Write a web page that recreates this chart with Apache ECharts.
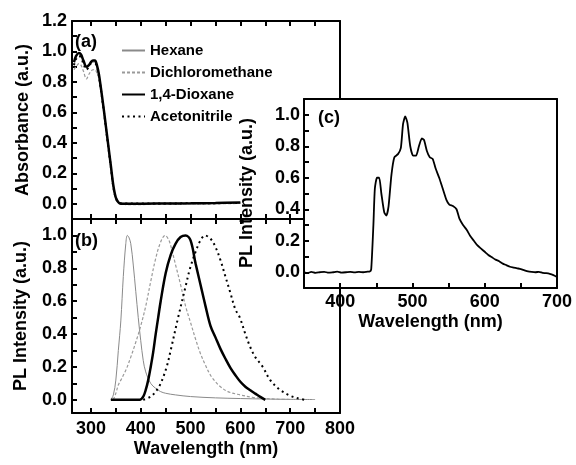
<!DOCTYPE html>
<html>
<head>
<meta charset="utf-8">
<script src="https://cdn.jsdelivr.net/npm/echarts@6/dist/echarts.min.js"></script>
<style>
  html, body { margin: 0; padding: 0; background: #fff; }
  #chart { width: 576px; height: 465px; }
</style>
</head>
<body>
<div id="chart"></div>
<script>
(function () {
    'use strict';

    var seriesNames = ['Hexane', 'Dichloromethane', '1,4-Dioxane', 'Acetonitrile'];

    // (a) absorbance
    var absWl = [266, 270, 276, 280, 285, 291, 296, 300, 304, 308, 312, 316, 320, 325, 330, 335, 340, 345, 350, 355, 360, 370, 400, 450, 500, 550, 600];
    var absHexane = [0.92, 0.96, 0.99, 0.98, 0.93, 0.89, 0.91, 0.93, 0.93, 0.93, 0.90, 0.84, 0.76, 0.63, 0.50, 0.37, 0.24, 0.11, 0.04, 0.01, 0.005, 0.003, 0.002, 0.003, 0.004, 0.006, 0.008];
    var absDcm = [0.88, 0.90, 0.92, 0.91, 0.87, 0.82, 0.85, 0.87, 0.88, 0.88, 0.86, 0.82, 0.74, 0.62, 0.49, 0.36, 0.23, 0.10, 0.03, 0.005, 0.0, -0.005, -0.005, -0.003, -0.002, 0.0, 0.002];
    var absDioxane = [0.93, 0.97, 0.99, 0.98, 0.94, 0.90, 0.91, 0.93, 0.94, 0.94, 0.91, 0.85, 0.76, 0.64, 0.51, 0.38, 0.25, 0.12, 0.04, 0.01, 0.0, 0.0, 0.0, 0.002, 0.003, 0.005, 0.008];
    var absAcn = [0.91, 0.95, 0.97, 0.96, 0.92, 0.88, 0.90, 0.92, 0.92, 0.92, 0.90, 0.84, 0.75, 0.63, 0.50, 0.37, 0.24, 0.11, 0.04, 0.01, 0.003, 0.002, 0.001, 0.002, 0.003, 0.004, 0.006];

    // (b) PL in solvents
    var plHexWl = [340, 345, 350, 355, 360, 365, 370, 373, 376, 380, 385, 390, 395, 400, 405, 410, 420, 430, 440, 450, 470, 500, 550, 600, 650, 700, 750];
    var plHex = [0, 0.03, 0.12, 0.3, 0.48, 0.75, 0.95, 1.0, 0.99, 0.95, 0.82, 0.66, 0.5, 0.36, 0.24, 0.17, 0.1, 0.07, 0.05, 0.04, 0.03, 0.02, 0.012, 0.008, 0.005, 0.003, 0.002];
    var plDcmWl = [345, 350, 355, 360, 370, 380, 390, 400, 410, 420, 430, 440, 449, 455, 460, 470, 480, 490, 500, 510, 520, 530, 540, 550, 560, 575, 600, 625, 650, 675, 700];
    var plDcm = [0, 0.04, 0.09, 0.12, 0.18, 0.26, 0.35, 0.45, 0.57, 0.72, 0.86, 0.96, 1.0, 0.98, 0.94, 0.82, 0.7, 0.57, 0.47, 0.37, 0.28, 0.21, 0.15, 0.11, 0.08, 0.05, 0.03, 0.015, 0.008, 0.004, 0.002];
    var plDioxWl = [340, 360, 380, 398, 405, 410, 415, 420, 425, 430, 435, 440, 450, 460, 470, 480, 490, 500, 510, 520, 530, 540, 550, 560, 570, 580, 590, 600, 610, 620, 630, 640, 650];
    var plDiox = [0, 0, 0, 0, 0.02, 0.06, 0.12, 0.2, 0.29, 0.4, 0.5, 0.6, 0.77, 0.88, 0.95, 0.99, 1.0, 0.97, 0.83, 0.7, 0.57, 0.45, 0.38, 0.31, 0.25, 0.195, 0.15, 0.11, 0.08, 0.058, 0.038, 0.018, 0.0];
    var plAcnWl = [405, 420, 430, 440, 452, 460, 475, 490, 499, 510, 520, 529, 540, 550, 560, 570, 580, 590, 599, 610, 620, 630, 645, 660, 680, 700, 715, 730];
    var plAcn = [0, 0.02, 0.05, 0.1, 0.2, 0.3, 0.5, 0.69, 0.8, 0.9, 0.97, 1.0, 0.98, 0.93, 0.85, 0.75, 0.65, 0.55, 0.5, 0.4, 0.32, 0.26, 0.2, 0.12, 0.06, 0.025, 0.01, 0.0];

    // (c) PL spectrum
    var plcWl = [350, 355, 360, 366, 372, 378, 384, 390, 396, 402, 408, 414, 420, 426, 432, 438, 441, 443, 446, 448, 451, 454, 457, 461, 464, 467, 471, 475, 480, 484, 487, 490, 493, 497, 501, 505, 509, 513, 516, 520, 524, 528, 532, 537, 542, 547, 551, 556, 561, 565, 570, 575, 580, 585, 590, 595, 600, 605, 610, 615, 620, 625, 630, 635, 640, 645, 650, 655, 660, 665, 670, 675, 680, 685, 690, 695, 700];
    var plc = [0.0, -0.005, 0.002, -0.004, 0.0, 0.003, -0.003, 0.0, 0.004, -0.002, 0.0, 0.003, -0.001, 0.002, 0.0, 0.004, 0.005, 0.02, 0.3, 0.53, 0.6, 0.6, 0.5, 0.38, 0.36, 0.42, 0.62, 0.73, 0.75, 0.79, 0.94, 0.99, 0.95, 0.8, 0.74, 0.74, 0.8, 0.85, 0.84, 0.77, 0.73, 0.72, 0.66, 0.6, 0.53, 0.46, 0.43, 0.42, 0.4, 0.34, 0.3, 0.27, 0.23, 0.2, 0.17, 0.15, 0.13, 0.11, 0.095, 0.08, 0.07, 0.055, 0.045, 0.035, 0.03, 0.025, 0.02, 0.012, 0.005, 0.002, 0.0, 0.003, -0.004, -0.006, -0.01, -0.018, -0.03];

    var xTicksAB = [300, 350, 400, 450, 500, 550, 600, 650, 700, 750, 800];
    var xLabelsAB = [300, 400, 500, 600, 700, 800];
    var yLabelsA = [0, 0.2, 0.4, 0.6, 0.8, 1.0, 1.2];
    var yTicksA = [0, 0.1, 0.2, 0.3, 0.4, 0.5, 0.6, 0.7, 0.8, 0.9, 1.0, 1.1, 1.2];
    var yLabelsB = [0, 0.2, 0.4, 0.6, 0.8, 1.0];
    var yTicksB = [0, 0.1, 0.2, 0.3, 0.4, 0.5, 0.6, 0.7, 0.8, 0.9, 1.0];

    function pairs(xs, ys) {
        return xs.map(function (x, i) { return [x, ys[i]]; });
    }

    var font = "'Liberation Sans', Arial, sans-serif";
    var txt = { color: '#000', fontFamily: font, fontWeight: 'bold', fontSize: 18 };
    var fmt1 = function (v) { return Number(v).toFixed(1); };
    // every 0.2 from 0 to 1.0, blank otherwise
    var fmtEven = function (v) {
        var k = Math.round(v * 10);
        return (k >= 0 && k <= 10 && k % 2 === 0) ? (k / 10).toFixed(1) : '';
    };

    function axLine() {
        return { show: true, onZero: false, lineStyle: { color: '#000', width: 2 } };
    }
    function ticks(vals) {
        var t = { show: true, inside: true, length: 5, lineStyle: { color: '#000', width: 2 } };
        if (vals) t.customValues = vals;
        return t;
    }

    // one value axis, drawn as a frame side
    function axis(grid, pos, min, max, tickVals, labelOpt, extra) {
        var a = {
            type: 'value', gridIndex: grid, position: pos, min: min, max: max,
            axisLine: axLine(),
            axisTick: tickVals === null ? { show: false } : ticks(tickVals),
            axisLabel: labelOpt ? Object.assign({ hideOverlap: false }, txt, labelOpt) : { show: false },
            splitLine: { show: false }
        };
        return Object.assign(a, extra || {});
    }

    var styles = {
        'Hexane': { color: '#8a8a8a', width: 1, type: 'solid' },
        'Dichloromethane': { color: '#9a9a9a', width: 1.2, type: [3, 2] },
        '1,4-Dioxane': { color: '#000', width: 2.5, type: 'solid' },
        'Acetonitrile': { color: '#000', width: 2, type: [2, 3.5] }
    };

    function line(name, xi, yi, data) {
        return {
            name: name, type: 'line', xAxisIndex: xi, yAxisIndex: yi,
            data: data, symbol: 'none', smooth: 0.35,
            lineStyle: styles[name], itemStyle: { color: styles[name].color }
        };
    }

    var myChart = echarts.init(document.getElementById('chart'), null, { renderer: 'canvas' });

    var option = {
        backgroundColor: '#fff',
        animation: false,
        grid: [
            { left: 72, top: 21, width: 268, height: 198 },
            { left: 72, top: 219, width: 268, height: 194 },
            // inset (c) sits on top of the right part of (a)/(b)
            { left: 304, top: 99, width: 253, height: 189, show: true, borderWidth: 0,
              backgroundColor: '#fff', z: 10 }
        ],
        legend: {
            data: seriesNames,
            orient: 'vertical',
            left: 121, top: 43,
            padding: 0,
            itemWidth: 23, itemHeight: 12, itemGap: 7,
            itemStyle: { opacity: 0, borderWidth: 0 },
            textStyle: { color: '#000', fontFamily: font, fontWeight: 'bold', fontSize: 15 }
        },
        xAxis: [
            axis(0, 'bottom', 262, 800, xTicksAB, null),
            axis(0, 'top', 262, 800, xTicksAB, null),
            axis(1, 'bottom', 262, 800, xTicksAB, { customValues: xLabelsAB, margin: 7 },
                { name: 'Wavelength (nm)', nameLocation: 'middle', nameGap: 27, nameTextStyle: txt }),
            axis(1, 'top', 262, 800, xTicksAB, null),
            axis(2, 'bottom', 350, 700, undefined,
                { margin: 5, formatter: function (v) { return v % 100 === 0 ? String(v) : ''; } },
                { interval: 50, z: 11, name: 'Wavelength (nm)', nameLocation: 'middle', nameGap: 25, nameTextStyle: txt }),
            axis(2, 'top', 350, 700, null, null, { interval: 50, z: 11 })
        ],
        yAxis: [
            axis(0, 'left', -0.1, 1.2, yTicksA, { customValues: yLabelsA, margin: 5, formatter: fmt1 },
                { name: 'Absorbance (a.u.)', nameLocation: 'middle', nameGap: 40, nameTextStyle: txt }),
            axis(0, 'right', -0.1, 1.2, null, null),
            axis(1, 'left', -0.08, 1.1, yTicksB, { customValues: yLabelsB, margin: 5, formatter: fmt1 },
                { name: 'PL Intensity (a.u.)', nameLocation: 'middle', nameGap: 42, nameTextStyle: txt }),
            axis(1, 'right', -0.08, 1.1, null, null),
            axis(2, 'left', -0.1, 1.1, undefined,
                { margin: 4, formatter: fmtEven, showMinLabel: true, showMaxLabel: true },
                { interval: 0.1, z: 11 }),
            axis(2, 'right', -0.1, 1.1, null, null, { interval: 0.1, z: 11 })
        ],
        graphic: [
            { type: 'text', left: 75, top: 33, style: { text: '(a)', fill: '#000', font: 'bold 18px ' + font } },
            { type: 'text', left: 75, top: 232, style: { text: '(b)', fill: '#000', font: 'bold 18px ' + font } },
            { type: 'text', left: 318, top: 109, z: 20, style: { text: '(c)', fill: '#000', font: 'bold 18px ' + font } },
            { type: 'text', x: 238, y: 268, rotation: Math.PI / 2, z: 20,
              style: { text: 'PL Intensity (a.u.)', fill: '#000', font: 'bold 18px ' + font, align: 'left', verticalAlign: 'top' } }
        ],
        series: [
            line('Hexane', 0, 0, pairs(absWl, absHexane)),
            line('Dichloromethane', 0, 0, pairs(absWl, absDcm)),
            line('Acetonitrile', 0, 0, pairs(absWl, absAcn)),
            line('1,4-Dioxane', 0, 0, pairs(absWl, absDioxane)),

            line('Hexane', 2, 2, pairs(plHexWl, plHex)),
            line('Dichloromethane', 2, 2, pairs(plDcmWl, plDcm)),
            line('1,4-Dioxane', 2, 2, pairs(plDioxWl, plDiox)),
            line('Acetonitrile', 2, 2, pairs(plAcnWl, plAcn)),

            { name: 'PL', type: 'line', xAxisIndex: 4, yAxisIndex: 4, z: 12,
              data: pairs(plcWl, plc), symbol: 'none', smooth: 0.2,
              lineStyle: { color: '#000', width: 1.8 } }
        ]
    };

    myChart.setOption(option);
})();
</script>
</body>
</html>
